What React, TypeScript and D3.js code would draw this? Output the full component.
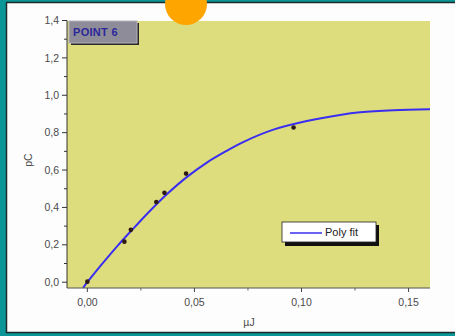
import React from "react";
import * as d3 from "d3";

// Measured points (energy in µJ, charge in pC)
const pointX = [0.0, 0.0173, 0.0203, 0.0322, 0.036, 0.0461, 0.0963];
const pointY = [0.003, 0.217, 0.28, 0.429, 0.478, 0.581, 0.828];

// Polynomial fit curve samples
const fitX = [-0.002, 0, 0.0067, 0.0145, 0.0223, 0.0293, 0.0371, 0.0464, 0.0558, 0.0651, 0.073, 0.0869, 0.1025, 0.118, 0.1274, 0.143, 0.16];
const fitY = [-0.03, 0.0, 0.095, 0.2, 0.297, 0.382, 0.47, 0.562, 0.64, 0.703, 0.751, 0.816, 0.862, 0.895, 0.909, 0.92, 0.925];

const xMajorTicks = [0.0, 0.05, 0.1, 0.15];
const xMinorTicks = [0.025, 0.075, 0.125];
const yMajorTicks = [0.0, 0.2, 0.4, 0.6, 0.8, 1.0, 1.2, 1.4];
const yMinorTicks = [0.1, 0.3, 0.5, 0.7, 0.9, 1.1, 1.3];

const W = 455;
const H = 336;
const plot = { left: 67, right: 430, top: 21, bottom: 288 };

const fmtX = (v: number) => d3.format(".2f")(v).replace(".", ",");
const fmtY = (v: number) => d3.format(".1f")(v).replace(".", ",");

export default function App() {
  const x = d3.scaleLinear().domain([-0.0095, 0.16]).range([plot.left, plot.right]);
  const y = d3.scaleLinear().domain([-0.031, 1.4]).range([plot.bottom, plot.top - 0.5]);

  const fitData = fitX.map((v, i) => [v, fitY[i]] as [number, number]);
  const line = d3
    .line<[number, number]>()
    .x((d) => x(d[0]))
    .y((d) => y(d[1]))
    .curve(d3.curveCatmullRom.alpha(0.5));

  const font = "'Liberation Sans', Arial, sans-serif";
  const tickColor = "#4a4a4a";

  return (
    <svg
      width={W}
      height={H}
      style={{ position: "absolute", left: 0, top: 0, display: "block" }}
      fontFamily={font}
    >
      <defs>
        <clipPath id="plotClip">
          <rect x={plot.left} y={plot.top} width={plot.right - plot.left} height={plot.bottom - plot.top} />
        </clipPath>
      </defs>

      {/* frame */}
      <rect x={0} y={0} width={W} height={H} fill="#0a9696" />
      <rect x={6.5} y={2.5} width={W} height={330} fill="#fdfdfd" stroke="#1e2a2a" strokeWidth={1.5} />

      {/* plot background */}
      <rect
        x={plot.left}
        y={plot.top}
        width={plot.right - plot.left}
        height={plot.bottom - plot.top}
        fill="#dedd7e"
      />

      {/* fit curve */}
      <path d={line(fitData) ?? ""} fill="none" stroke="#3a2ff0" strokeWidth={2} clipPath="url(#plotClip)" />

      {/* points */}
      {pointX.map((v, i) => (
        <circle key={i} cx={x(v)} cy={y(pointY[i])} r={2.3} fill="#2e1a12" />
      ))}

      {/* axes */}
      <line x1={plot.left} x2={plot.left} y1={y(1.4)} y2={plot.bottom} stroke="#333" strokeWidth={1} />
      <line x1={plot.left} x2={plot.right} y1={plot.bottom} y2={plot.bottom} stroke="#555" strokeWidth={1} />

      {yMajorTicks.map((t) => (
        <g key={"ym" + t}>
          <line x1={plot.left - 5} x2={plot.left} y1={y(t)} y2={y(t)} stroke="#333" />
          <text x={plot.left - 8} y={y(t)} dy="0.35em" textAnchor="end" fontSize={10.5} fill={tickColor}>
            {fmtY(t)}
          </text>
        </g>
      ))}
      {yMinorTicks.map((t) => (
        <line key={"yn" + t} x1={plot.left - 3} x2={plot.left} y1={y(t)} y2={y(t)} stroke="#333" />
      ))}

      {xMajorTicks.map((t) => (
        <g key={"xm" + t}>
          <line x1={x(t)} x2={x(t)} y1={plot.bottom} y2={plot.bottom + 4} stroke="#444" />
          <text x={x(t)} y={plot.bottom + 14} dy="0.35em" textAnchor="middle" fontSize={10.5} fill={tickColor}>
            {fmtX(t)}
          </text>
        </g>
      ))}
      {xMinorTicks.map((t) => (
        <line key={"xn" + t} x1={x(t)} x2={x(t)} y1={plot.bottom} y2={plot.bottom + 2.5} stroke="#666" />
      ))}

      {/* axis titles */}
      <text x={249} y={322} dy="0.35em" textAnchor="middle" fontSize={10.5} fill={tickColor}>
        µJ
      </text>
      <text
        transform={`translate(28,${160}) rotate(-90)`}
        textAnchor="middle"
        dy="0.35em"
        fontSize={10.5}
        fill={tickColor}
      >
        pC
      </text>

      {/* title tag */}
      <rect x={71} y={23} width={68} height={22} fill="#2a2a2a" />
      <rect x={69} y={21} width={68} height={22} fill="#8e8c98" stroke="#b4b2bc" strokeWidth={1} />
      <text x={73} y={32.5} dy="0.35em" fontSize={11} fontWeight="bold" fill="#2b279a" letterSpacing={0.3}>
        POINT 6
      </text>

      {/* legend */}
      <rect x={285} y={225} width={94} height={21} fill="#111" />
      <rect x={282} y={222} width={94} height={20} fill="#ffffff" stroke="#222" strokeWidth={0.8} />
      <line x1={290} x2={322} y1={233} y2={233} stroke="#3a2ff0" strokeWidth={1.5} />
      <text x={325} y={232.5} dy="0.35em" fontSize={11} fill="#222">
        Poly fit
      </text>

      {/* orange marker */}
      <circle cx={186} cy={4} r={21} fill="#ffa500" />
    </svg>
  );
}
